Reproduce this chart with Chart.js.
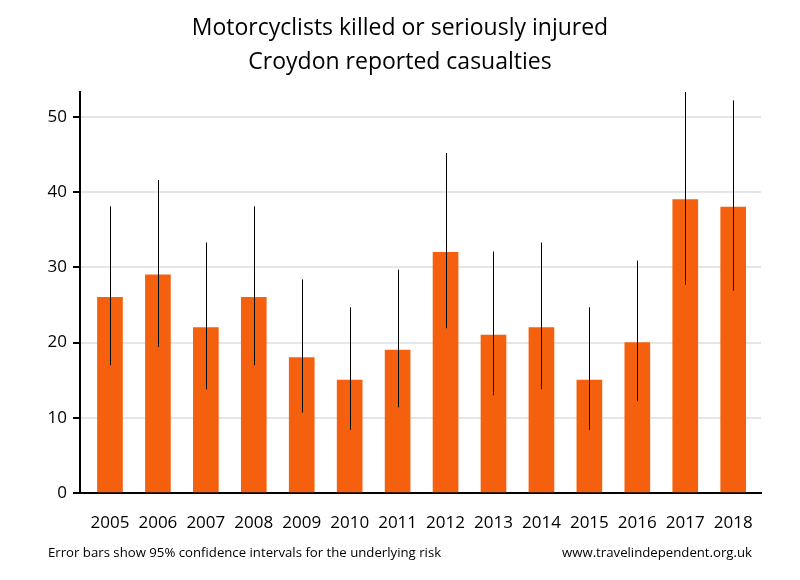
<!DOCTYPE html>
<html lang="en">
<head>
    <meta charset="UTF-8">
    <title>Motorcyclists killed or seriously injured</title>
    <script src="https://cdn.jsdelivr.net/npm/chart.js@4.4.1/dist/chart.umd.min.js"></script>
    <style>
        html, body { margin: 0; padding: 0; background: #fff; }
        #wrap { width: 800px; height: 580px; }
    </style>
</head>
<body>
<div id="wrap"><canvas id="ksiChart"></canvas></div>

<script>
    // data
    const years = ['2005', '2006', '2007', '2008', '2009', '2010', '2011', '2012', '2013', '2014', '2015', '2016', '2017', '2018'];
    const casualties = [26, 29, 22, 26, 18, 15, 19, 32, 21, 22, 15, 20, 39, 38];
    const lowerCI = [17.0, 19.4, 13.8, 17.0, 10.7, 8.4, 11.4, 21.9, 13.0, 13.8, 8.4, 12.2, 27.7, 26.9];
    const upperCI = [38.1, 41.6, 33.3, 38.1, 28.4, 24.7, 29.7, 45.2, 32.1, 33.3, 24.7, 30.9, 53.3, 52.2];
    const yTicks = [0, 10, 20, 30, 40, 50];

    const titleLines = ['Motorcyclists killed or seriously injured', 'Croydon reported casualties'];
    const noteLeft = 'Error bars show 95% confidence intervals for the underlying risk';
    const noteRight = 'www.travelindependent.org.uk';

    const FONT = '"Open Sans", "Liberation Sans", sans-serif';

    // error bars + title + footer notes
    const extras = {
        id: 'extras',
        afterDatasetsDraw(chart) {
            const ctx = chart.ctx;
            const x = chart.scales.x, y = chart.scales.y;
            ctx.save();
            ctx.strokeStyle = '#000';
            ctx.lineWidth = 1;
            casualties.forEach((v, i) => {
                const px = Math.round(x.getPixelForValue(i)) + 0.5;
                ctx.beginPath();
                ctx.moveTo(px, y.getPixelForValue(lowerCI[i]));
                ctx.lineTo(px, y.getPixelForValue(upperCI[i]));
                ctx.stroke();
            });
            ctx.restore();
        },
        afterDraw(chart) {
            const ctx = chart.ctx;
            ctx.save();
            ctx.fillStyle = '#000';
            ctx.textBaseline = 'middle';
            ctx.textAlign = 'center';
            ctx.font = '23px ' + FONT;
            ctx.fillText(titleLines[0], 400, 28);
            ctx.fillText(titleLines[1], 400, 62);
            ctx.font = '13.2px ' + FONT;
            ctx.textAlign = 'left';
            ctx.fillText(noteLeft, 48, 553);
            ctx.textAlign = 'right';
            ctx.fillText(noteRight, 752, 553);
            ctx.restore();
        }
    };

    new Chart(document.getElementById('ksiChart'), {
        type: 'bar',
        data: {
            datasets: [{
                data: casualties.map((v, i) => ({ x: i, y: v })),
                backgroundColor: '#f5600e',
                barThickness: 25
            }]
        },
        options: {
            responsive: true,
            maintainAspectRatio: false,
            animation: false,
            layout: { padding: { top: 92, right: 39, left: 0, bottom: 0 } },
            plugins: {
                legend: { display: false },
                title: { display: false },
                tooltip: { enabled: false }
            },
            scales: {
                x: {
                    type: 'linear',
                    offset: false,
                    min: -0.625,
                    max: 13.58,
                    afterFit(scale) { scale.height = 87; },
                    afterBuildTicks(scale) {
                        scale.ticks = years.map((yr, i) => ({ value: i }));
                    },
                    ticks: {
                        callback: (v) => years[v],
                        color: '#000',
                        font: { family: FONT, size: 17 },
                        padding: 12,
                        maxRotation: 0,
                        autoSkip: false
                    },
                    grid: { display: false },
                    border: { color: '#000', width: 2 }
                },
                y: {
                    min: 0,
                    max: 53.31,
                    afterFit(scale) { scale.width = 80; },
                    afterBuildTicks(scale) {
                        scale.ticks = yTicks.map(v => ({ value: v }));
                    },
                    ticks: {
                        color: '#000',
                        font: { family: FONT, size: 17 },
                        padding: 6
                    },
                    grid: {
                        color: '#e6e6e6',
                        lineWidth: 2,
                        tickColor: '#000',
                        tickLength: 7,
                        tickWidth: 2
                    },
                    border: { color: '#000', width: 2 }
                }
            }
        },
        plugins: [extras]
    });
</script>
</body>
</html>
